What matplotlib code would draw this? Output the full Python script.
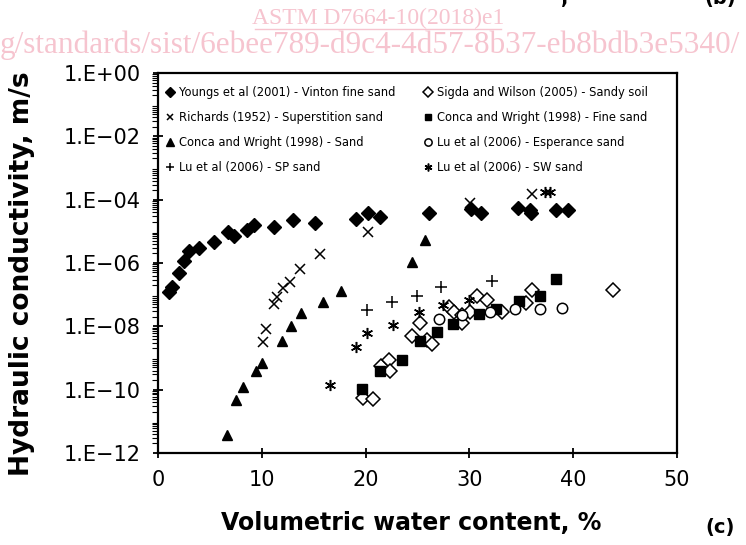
import numpy as np
import matplotlib.pyplot as plt
import matplotlib.ticker as mticker

# volumetric water content (%) and log10 of hydraulic conductivity (m/s)
youngs_x = [1.0, 1.3, 2.05, 2.5, 3.0, 3.95, 5.4, 6.7, 7.35, 8.55, 9.25, 11.2, 13.0, 15.1,
            19.1, 20.2, 21.4, 26.1, 30.15, 31.1, 34.65, 35.85, 35.9, 38.35, 39.45]
youngs_logk = [-6.91, -6.77, -6.31, -5.94, -5.62, -5.52, -5.34, -5.02, -5.15, -4.96, -4.80,
               -4.87, -4.64, -4.73, -4.62, -4.43, -4.54, -4.41, -4.30, -4.41, -4.27, -4.33,
               -4.43, -4.33, -4.33]

richards_x = [10.1, 10.4, 11.15, 11.45, 12.0, 12.7, 13.7, 15.6, 20.2, 30.05, 36.05]
richards_logk = [-8.50, -8.09, -7.31, -7.06, -6.80, -6.59, -6.19, -5.72, -5.01, -4.10, -3.82]

conca_sand_x = [6.6, 7.5, 8.2, 9.45, 10.05, 11.9, 12.8, 13.8, 15.85, 17.6, 24.45, 25.75]
conca_sand_logk = [-11.43, -10.33, -9.93, -9.41, -9.15, -8.45, -7.99, -7.59, -7.22, -6.87,
                   -5.97, -5.28]

lu_sp_x = [20.1, 22.5, 24.98, 27.3, 32.2]
lu_sp_logk = [-7.48, -7.22, -7.03, -6.77, -6.56]

sigda_x = [19.7, 20.7, 21.5, 22.2, 22.3, 24.5, 25.2, 25.9, 26.4, 28.05, 28.5, 29.25, 29.3,
           30.1, 30.7, 31.7, 33.1, 35.45, 36.0, 43.85]
sigda_logk = [-10.28, -10.29, -9.25, -9.05, -9.42, -8.32, -7.90, -8.43, -8.57, -7.38, -7.54,
              -7.64, -7.90, -7.56, -7.03, -7.17, -7.56, -7.25, -6.85, -6.85]

conca_fine_x = [19.6, 21.35, 23.5, 25.2, 26.85, 28.45, 30.9, 32.6, 34.75, 36.8, 38.3]
conca_fine_logk = [-9.99, -9.40, -9.05, -8.47, -8.19, -7.94, -7.61, -7.47, -7.21, -7.03, -6.52]

lu_esp_x = [27.05, 29.3, 31.95, 34.35, 36.8, 38.9]
lu_esp_logk = [-7.77, -7.63, -7.54, -7.46, -7.46, -7.42]

lu_sw_x = [16.55, 19.05, 20.15, 22.65, 25.1, 27.45, 29.95, 37.3, 37.8]
lu_sw_logk = [-9.86, -8.64, -8.20, -7.97, -7.54, -7.33, -7.18, -3.77, -3.77]

ytick_exp = [0, -2, -4, -6, -8, -10, -12]
ytick_labels = ['1.E+00', '1.E\u221202', '1.E\u221204', '1.E\u221206', '1.E\u221208',
                '1.E\u221210', '1.E\u221212']
xticks = [0, 10, 20, 30, 40, 50]

pink = '#f6c4cf'

fig = plt.figure(figsize=(7.46, 5.45), dpi=100)

# watermark behind the chart
fig.text(0.507, 0.967, 'ASTM D7664-10(2018)e1', color=pink, family='Liberation Serif',
         fontsize=17, ha='center', va='center', zorder=0)
fig.add_artist(plt.Line2D([0.342, 0.672], [0.946, 0.946], color=pink, lw=1.0, zorder=0))
fig.text(0.0, 0.917, 'g/standards/sist/6ebee789-d9c4-4d57-8b37-eb8bdb3e5340/', color=pink,
         family='Liberation Serif', fontsize=22.5, ha='left', va='center', zorder=0)

ax = fig.add_axes([0.212, 0.169, 0.6955, 0.697])
ax.patch.set_alpha(0)

k = lambda v: 10.0 ** np.array(v)
ms = 7
ax.plot(youngs_x, k(youngs_logk), 'D', color='k', ms=ms - 0.3,
        label='Youngs et al (2001) - Vinton fine sand')
ax.plot(richards_x, k(richards_logk), 'x', color='k', ms=ms, mew=1.1,
        label='Richards (1952) - Superstition sand')
ax.plot(conca_sand_x, k(conca_sand_logk), '^', color='k', ms=ms + 0.5,
        label='Conca and Wright (1998) - Sand')
ax.plot(lu_sp_x, k(lu_sp_logk), '+', color='k', ms=ms + 1, mew=1.1,
        label='Lu et al (2006) - SP sand')
ax.plot(sigda_x, k(sigda_logk), 'D', mfc='white', mec='k', mew=1.1, ms=ms - 0.3,
        label='Sigda and Wilson (2005) - Sandy soil')
ax.plot(conca_fine_x, k(conca_fine_logk), 's', color='k', ms=ms - 0.5,
        label='Conca and Wright (1998) - Fine sand')
ax.plot(lu_esp_x, k(lu_esp_logk), 'o', mfc='white', mec='k', mew=1.1, ms=ms + 0.5,
        label='Lu et al (2006) - Esperance sand')
ax.plot(lu_sw_x, k(lu_sw_logk), marker=(6, 2, 0), ls='none', color='k', ms=ms + 1, mew=1.1,
        label='Lu et al (2006) - SW sand')

ax.set_yscale('log')
ax.set_ylim(1e-12, 1)
ax.set_xlim(0, 50)
ax.set_yticks([10.0 ** e for e in ytick_exp])
ax.set_yticklabels(ytick_labels)
ax.yaxis.set_minor_locator(mticker.LogLocator(base=10, subs=np.arange(2, 10), numticks=100))
ax.yaxis.set_minor_formatter(mticker.NullFormatter())
ax.set_xticks(xticks)

for s in ax.spines.values():
    s.set_linewidth(1.6)
ax.tick_params(axis='both', which='major', direction='inout', length=7, width=1.3,
               labelsize=15, pad=9)
ax.tick_params(axis='y', which='minor', direction='out', length=4, width=0.8)

ax.legend(loc='upper left', ncol=2, frameon=False, fontsize=8.3, markerscale=0.7,
          handlelength=0.8, handletextpad=0.4, labelspacing=1.05, columnspacing=2.4,
          borderaxespad=0.7, bbox_to_anchor=(-0.01, 1.0))

fig.text(0.030, 0.497, 'Hydraulic conductivity, m/s', rotation=90, fontsize=19,
         fontweight='bold', ha='center', va='center')
fig.text(0.551, 0.040, 'Volumetric water content, %', fontsize=17, fontweight='bold',
         ha='center', va='center')
fig.text(0.965, 0.033, '(c)', fontsize=14, fontweight='bold', ha='center', va='center')
fig.text(0.965, 1.003, '(b)', fontsize=14, fontweight='bold', ha='center', va='center')
fig.text(0.757, 1.003, ',', fontsize=14, fontweight='bold', ha='center', va='center')

fig.savefig('out.png', dpi=100)
